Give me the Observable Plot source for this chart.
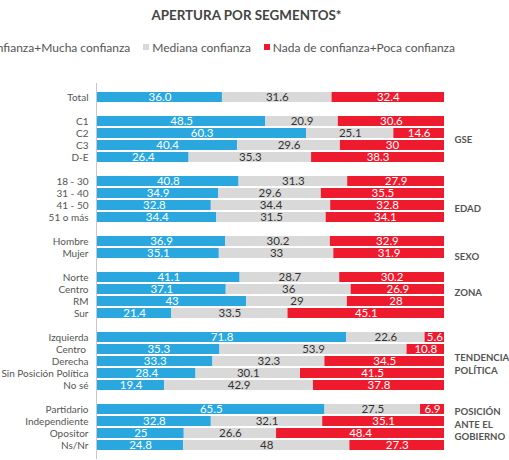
<!DOCTYPE html>
<html>
<head>
<meta charset="utf-8">
<script src="https://cdn.jsdelivr.net/npm/d3@7"></script>
<script src="https://cdn.jsdelivr.net/npm/@observablehq/plot@0.6"></script>
<style>
  html, body { margin: 0; padding: 0; background: #fff; overflow: hidden; }
  body { width: 509px; height: 460px; position: relative; font-family: Lato, "Open Sans", sans-serif; }
  #title { position: absolute; top: 0; left: 0; width: 493px; height: 30px; line-height: 30px; text-align: center;
           font-weight: bold; font-size: 13.4px; color: #444; }
  #legend { position: absolute; top: 38px; right: 54px; height: 18px; display: flex; align-items: center;
            white-space: nowrap; font-size: 12px; color: #555; }
  #legend .item { display: flex; align-items: center; margin-left: 13px; }
  #legend .sw { width: 6px; height: 6px; margin-right: 3px; }
  #chart { position: absolute; top: 62px; left: 0; }
</style>
</head>
<body>
<div id="title">APERTURA POR SEGMENTOS*</div>
<div id="legend"></div>
<div id="chart"></div>
<script>
const seriesNames = ["Bastante confianza+Mucha confianza", "Mediana confianza", "Nada de confianza+Poca confianza"];
const seriesColors = ["#2AA7DF", "#D9D9D9", "#EE1B2E"];
const labelColors = ["#ffffff", "#333333", "#ffffff"];

const groupLabels = ["", "GSE", "EDAD", "SEXO", "ZONA", "TENDENCIA\nPOLÍTICA", "POSICIÓN\nANTE EL\nGOBIERNO"];
const groupRows = [
  ["Total"],
  ["C1", "C2", "C3", "D-E"],
  ["18 - 30", "31 - 40", "41 - 50", "51 o más"],
  ["Hombre", "Mujer"],
  ["Norte", "Centro", "RM", "Sur"],
  ["Izquierda", "Centro ", "Derecha", "Sin Posición Política", "No sé"],
  ["Partidario", "Independiente", "Opositor", "Ns/Nr"]
];
const groupAnchor = ["", "C2", "41 - 50", "Mujer", "Centro", "Derecha", "Independiente"];

const categories = groupRows.flat();
const blue = ["36.0","48.5","60.3","40.4","26.4","40.8","34.9","32.8","34.4","36.9","35.1","41.1","37.1","43","21.4","71.8","35.3","33.3","28.4","19.4","65.5","32.8","25","24.8"];
const gray = ["31.6","20.9","25.1","29.6","35.3","31.3","29.6","34.4","31.5","30.2","33","28.7","36","29","33.5","22.6","53.9","32.3","30.1","42.9","27.5","32.1","26.6","48"];
const red  = ["32.4","30.6","14.6","30","38.3","27.9","35.5","32.8","34.1","32.9","31.9","30.2","26.9","28","45.1","5.6","10.8","34.5","41.5","37.8","6.9","35.1","48.4","27.3"];

const seriesValues = [blue, gray, red];
const data = [];
categories.forEach((row, i) => {
  seriesValues.forEach((vals, s) => {
    data.push({row, series: seriesNames[s], value: +vals[i], label: vals[i], s});
  });
});

// y domain with blank spacer rows between groups
const domain = [];
groupRows.forEach((rows, g) => {
  if (g > 0) domain.push("_gap" + g);
  domain.push(...rows);
});

const groupData = groupLabels.map((name, g) => ({name, row: groupAnchor[g]})).filter(d => d.name);

// legend
const legend = document.getElementById("legend");
seriesNames.forEach((n, i) => {
  const it = document.createElement("div");
  it.className = "item";
  it.innerHTML = `<span class="sw" style="background:${seriesColors[i]}"></span><span>${n}</span>`;
  legend.appendChild(it);
});

const stackOpts = {y: "row", x: "value", z: "series", order: seriesNames, offset: "normalize"};

const chart = Plot.plot({
  width: 509,
  height: 398,
  marginTop: 21,
  marginBottom: 1,
  marginLeft: 97,
  marginRight: 65,
  style: {fontFamily: "Lato, 'Open Sans', sans-serif", background: "#fff"},
  x: {domain: [0, 1], axis: null},
  y: {domain, padding: 0.17, paddingOuter: 0.235, label: null, tickSize: 0, tickPadding: 9,
      tickFormat: d => d.startsWith("_gap") ? "" : d},
  color: {type: "identity"},
  marks: [
    Plot.axisY({tickSize: 0, tickPadding: 9, fontSize: 10, color: "#555", label: null,
                tickFormat: d => d.startsWith("_gap") ? "" : d}),
    Plot.barX(data, Plot.stackX({...stackOpts, fill: d => seriesColors[d.s]})),
    Plot.text(data, Plot.stackX({...stackOpts, text: "label", fill: d => labelColors[d.s], fontSize: 11.5})),
    Plot.ruleX([0], {stroke: "#c8c8c8", dx: -1}),
    Plot.text(groupData.filter(d => d.row !== "C2"), {x: 1, y: "row", text: "name", dx: 10, dy: 2,
      textAnchor: "start", lineAnchor: "middle", fontSize: 9.6, fontWeight: "bold", fill: "#555", lineHeight: 1.3}),
    Plot.text(groupData.filter(d => d.row === "C2"), {x: 1, y: "row", text: "name", dx: 10, dy: 6,
      textAnchor: "start", lineAnchor: "middle", fontSize: 9.6, fontWeight: "bold", fill: "#555"})
  ]
});
document.getElementById("chart").appendChild(chart);
</script>
</body>
</html>
